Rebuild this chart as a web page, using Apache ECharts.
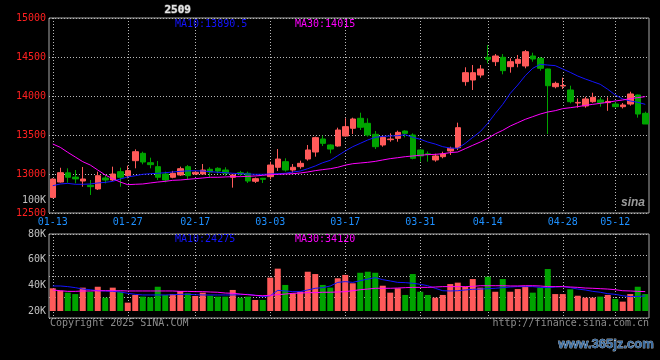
<!DOCTYPE html>
<html><head><meta charset="utf-8">
<script src="https://cdn.jsdelivr.net/npm/echarts/dist/echarts.min.js"></script>
<style>html,body{margin:0;padding:0;background:#000;}#c{width:660px;height:360px;}</style>
</head><body><div id="c"></div>
<script>
const dates = ['01-13','01-14','01-15','01-16','01-17','01-20','01-21','01-22','01-23','01-24','01-27',
'02-05','02-06','02-07','02-10','02-11','02-12','02-13','02-14',
'02-17','02-18','02-19','02-20','02-21','02-24','02-25','02-26','02-27','02-28',
'03-03','03-04','03-05','03-06','03-07','03-10','03-11','03-12','03-13','03-14',
'03-17','03-18','03-19','03-20','03-21','03-24','03-25','03-26','03-27','03-28',
'03-31','04-01','04-02','04-03','04-07','04-08','04-09','04-10','04-11',
'04-14','04-15','04-16','04-17','04-18','04-21','04-22','04-23','04-24','04-25',
'04-28','04-29','04-30','05-06','05-07','05-08','05-09',
'05-12','05-13','05-14','05-15','05-16'];
const tickLabels = ['01-13','01-27','02-17','03-03','03-17','03-31','04-14','04-28','05-12'];
const priceTicks = [12500, 13000, 13500, 14000, 14500, 15000];
const volTicks = [20000, 40000, 60000, 80000];

const openP = [12700,12897,13015,12960,12910,12855,12808,12949,12923,13030,12978,13171,13265,13145,13094,13000,12958,12987,13094,13000,
13000,13060,13073,13051,12958,13017,13009,12907,12945,12966,13086,13158,13051,13094,13192,13282,13449,13372,13359,13487,
13586,13714,13650,13509,13372,13440,13457,13551,13500,13308,13260,13180,13222,13295,13337,14184,14205,14269,14496,14440,
14496,14376,14419,14385,14513,14483,14346,14119,14128,14077,13910,13872,13927,13949,13915,13897,13863,13897,14013,13778];
const closeP = [12935,13017,12958,12937,12936,12838,12978,12923,13000,12958,13043,13286,13154,13120,12958,12923,13009,13068,12978,13022,
13051,13026,13038,13009,12987,13000,12910,12940,12932,13115,13192,13051,13086,13137,13308,13466,13393,13320,13564,13607,
13705,13599,13500,13350,13470,13448,13534,13521,13201,13231,13250,13231,13257,13329,13594,14299,14299,14346,14470,14513,
14325,14440,14470,14568,14474,14355,14132,14162,14135,13927,13918,13962,13983,13914,13930,13863,13885,14026,13769,13641];
const lowP = [12690,12890,12889,12880,12837,12731,12795,12880,12910,12837,12945,13073,13124,13073,12923,12893,12945,12975,12923,12990,
12995,12958,13005,12975,12825,12975,12885,12885,12885,12932,13038,13030,13017,13068,13171,13222,13359,13265,13350,13480,
13513,13564,13479,13320,13350,13414,13414,13470,13188,13158,13158,13158,13201,13244,13308,14132,14077,14235,14419,14385,
14278,14299,14368,14355,14440,14325,13513,14098,14090,13906,13850,13850,13914,13863,13810,13850,13840,13876,13722,13641];
const highP = [12945,13080,13073,13051,13090,12923,13030,12987,13094,13081,13107,13316,13286,13209,13167,13030,13040,13094,13115,13040,
13128,13086,13086,13086,12990,13040,13030,12955,12950,13158,13320,13201,13128,13171,13372,13479,13492,13380,13594,13714,
13722,13786,13714,13551,13487,13521,13556,13560,13521,13320,13290,13260,13286,13350,13658,14368,14397,14397,14654,14538,
14538,14483,14526,14590,14555,14500,14350,14184,14235,14132,13970,13990,14042,13983,13983,13920,13910,14055,14020,13799];
const ma10 = [12850,12872,12880,12868,12868,12872,12885,12893,12906,12936,12962,12978,12996,13004,13009,13017,13026,13034,13040,13042,
13038,13030,13022,13017,13009,13004,13000,12996,12996,13000,13004,13009,13026,13038,13068,13103,13145,13175,13235,13295,
13350,13393,13436,13470,13483,13487,13491,13504,13470,13445,13410,13384,13350,13333,13329,13393,13470,13543,13650,13776,
13893,14034,14141,14261,14355,14406,14397,14389,14346,14303,14256,14218,14184,14150,14086,14013,13962,13936,13919,13893];
const ma30 = [13385,13342,13278,13218,13158,13115,13051,12987,12940,12897,12863,12868,12872,12885,12897,12906,12919,12923,12932,12940,
12949,12958,12958,12962,12966,12966,12970,12975,12983,12992,12996,13000,13004,13013,13026,13043,13056,13068,13086,13113,
13132,13141,13150,13162,13180,13197,13209,13222,13231,13240,13248,13252,13260,13274,13282,13325,13368,13410,13457,13515,
13560,13615,13658,13701,13735,13769,13795,13812,13838,13850,13863,13880,13893,13906,13919,13936,13949,13966,13979,13992];
const volume = [37700,35800,34300,33200,38200,35000,38900,30400,38200,35000,26500,32500,31200,30700,38900,32500,33200,35600,33800,31700,
34300,31900,31200,31200,36400,30400,31200,28600,28600,46000,53000,40300,33800,35000,50600,48800,40300,38200,45500,48100,
41600,49800,50600,49800,39700,34300,37700,32500,48800,35000,32500,30400,32500,41000,42100,38900,44900,38200,46700,35000,
44900,35000,37100,38900,34300,38200,52700,33200,33200,36900,31900,30400,30400,31200,32500,29400,27300,33200,38900,33200];
const volMa10 = [39500,39500,39000,38200,37100,36600,35800,35600,35300,34800,33800,33000,32500,32500,32500,32500,32700,33000,33000,32700,
32500,32500,32500,32500,32500,32700,33000,32200,31200,31900,36100,35600,35100,35100,36400,37700,38200,39500,42300,42900,
42300,43600,44900,46000,44400,43400,42300,42100,41600,40800,39700,37700,35800,35600,35800,36400,36900,37100,37400,37700,
38200,38700,39000,39000,39000,38400,38200,38700,39000,38200,37100,36400,35300,34600,33500,33000,31900,31200,31400,31700];
const volMa30 = [36400,35800,35300,35300,35600,35600,35800,35800,35800,35800,35600,35600,35600,35600,35600,35600,35600,35300,35300,35100,
35100,34800,34600,34000,33800,33200,32700,32200,31900,32200,32700,33200,33800,34000,34300,34300,34600,34600,34800,35100,
35800,36600,37100,37700,37700,37700,37900,38200,38400,38400,38400,38700,39000,39000,39000,39000,39200,39700,39700,39700,
39700,39500,39500,39700,39700,39500,39000,39000,39000,38700,38400,37900,37700,37400,37100,36600,35800,35600,35300,35100];
const legendTexts = ['MA10:13890.5', 'MA30:14015', 'MA10:24275', 'MA30:34120'];

const UP = '#ff5a5a', DOWN = '#00a400', GRIDC = '#b8b8b8', FRAME = '#a8a8a8';
const BLUE = '#1414ff', MAG = '#ff00ff';
const FONT = 'DejaVu Sans Mono';
const tickSet = new Set(tickLabels);
const showTick = (i, v) => tickSet.has(v !== undefined ? v : dates[i]);
const candles = dates.map((d, i) => [openP[i], closeP[i], lowP[i], highP[i]]);

const chart = echarts.init(document.getElementById('c'), null, {renderer: 'canvas'});
const dotted = {color: GRIDC, width: 1, type: [1, 2]};
chart.setOption({
  backgroundColor: '#000',
  animation: false,
  grid: [
    {left: 49, width: 600, top: 18, height: 195, show: true, borderColor: FRAME, borderWidth: 1, backgroundColor: 'transparent'},
    {left: 49, width: 600, top: 234, height: 77},
    {left: 49, width: 600, top: 234, height: 84, show: true, borderColor: FRAME, borderWidth: 1, backgroundColor: 'transparent'}
  ],
  xAxis: [
    {type: 'category', gridIndex: 0, data: dates, boundaryGap: true,
     axisLine: {show: false}, axisTick: {show: false},
     axisLabel: {interval: (i, v) => showTick(i, v), color: '#1e90ff', fontFamily: FONT, fontSize: 10, margin: 4, hideOverlap: false},
     splitLine: {show: true, interval: (i, v) => showTick(i, v), alignWithLabel: true, lineStyle: dotted}},
    {type: 'category', gridIndex: 1, data: dates, boundaryGap: true,
     axisLine: {show: false}, axisTick: {show: false}, axisLabel: {show: false}, splitLine: {show: false}},
    {type: 'category', gridIndex: 2, data: dates, boundaryGap: true,
     axisLine: {show: false}, axisTick: {show: false}, axisLabel: {show: false},
     splitLine: {show: true, interval: (i, v) => showTick(i, v), alignWithLabel: true, lineStyle: dotted}}
  ],
  yAxis: [
    {type: 'value', gridIndex: 0, min: priceTicks[0], max: priceTicks[priceTicks.length - 1], interval: 500,
     axisLine: {show: false}, axisTick: {show: false},
     axisLabel: {color: '#ff2020', fontFamily: FONT, fontSize: 10, margin: 3, formatter: v => String(v)},
     splitLine: {show: true, lineStyle: dotted}},
    {type: 'value', gridIndex: 1, min: volTicks[0], max: volTicks[volTicks.length - 1], interval: 20000,
     axisLine: {show: false}, axisTick: {show: false},
     axisLabel: {color: '#c0c0c0', fontFamily: FONT, fontSize: 10, margin: 3, formatter: v => (v / 1000) + 'K'},
     splitLine: {show: false}},
    {type: 'value', gridIndex: 2, min: 0, max: 84, interval: 21,
     axisLine: {show: false}, axisTick: {show: false}, axisLabel: {show: false},
     splitLine: {show: true, lineStyle: dotted}}
  ],
  series: [
    {type: 'candlestick', xAxisIndex: 0, yAxisIndex: 0, data: candles, barWidth: 6,
     itemStyle: {color: UP, color0: DOWN, borderColor: UP, borderColor0: DOWN, borderWidth: 1}},
    {type: 'line', xAxisIndex: 0, yAxisIndex: 0, data: ma10, symbol: 'none', lineStyle: {color: BLUE, width: 1}},
    {type: 'line', xAxisIndex: 0, yAxisIndex: 0, data: ma30, symbol: 'none', lineStyle: {color: MAG, width: 1}},
    {type: 'bar', xAxisIndex: 1, yAxisIndex: 1, data: volume, barWidth: 6,
     itemStyle: {color: p => (closeP[p.dataIndex] >= openP[p.dataIndex] ? UP : DOWN)}},
    {type: 'line', xAxisIndex: 1, yAxisIndex: 1, data: volMa10, symbol: 'none', lineStyle: {color: BLUE, width: 1}},
    {type: 'line', xAxisIndex: 1, yAxisIndex: 1, data: volMa30, symbol: 'none', lineStyle: {color: MAG, width: 1}}
  ],
  graphic: [
    {type: 'text', left: 164, top: 4, style: {text: '2509', fill: '#e6e6e6', font: 'bold 11px ' + FONT, stroke: '#777', lineWidth: 1}},
    {type: 'text', left: 175, top: 19, style: {text: legendTexts[0], fill: BLUE, font: '10px ' + FONT}},
    {type: 'text', left: 295, top: 19, style: {text: legendTexts[1], fill: MAG, font: '10px ' + FONT}},
    {type: 'text', left: 175, top: 234, style: {text: legendTexts[2], fill: BLUE, font: '10px ' + FONT}},
    {type: 'text', left: 295, top: 234, style: {text: legendTexts[3], fill: MAG, font: '10px ' + FONT}},
    {type: 'text', right: 614, top: 195, style: {text: '100K', fill: '#c0c0c0', font: '10px ' + FONT}},
    {type: 'text', left: 50, top: 318, style: {text: 'Copyright 2025 SINA.COM', fill: '#8c8c8c', font: '10px ' + FONT}},
    {type: 'text', right: 11, top: 318, style: {text: 'http://finance.sina.com.cn', fill: '#8c8c8c', font: '10px ' + FONT}},
    {type: 'text', left: 621, top: 197, style: {text: 'sina', fill: '#9a9a9a', font: 'italic bold 12px Arial'}},
    {type: 'text', right: 6, top: 338, style: {text: 'www.365jz.com', fill: '#3a6ea5', font: 'bold 13px Arial', stroke: '#ffffff', lineWidth: 0.5}}
  ]
});
</script></body></html>
